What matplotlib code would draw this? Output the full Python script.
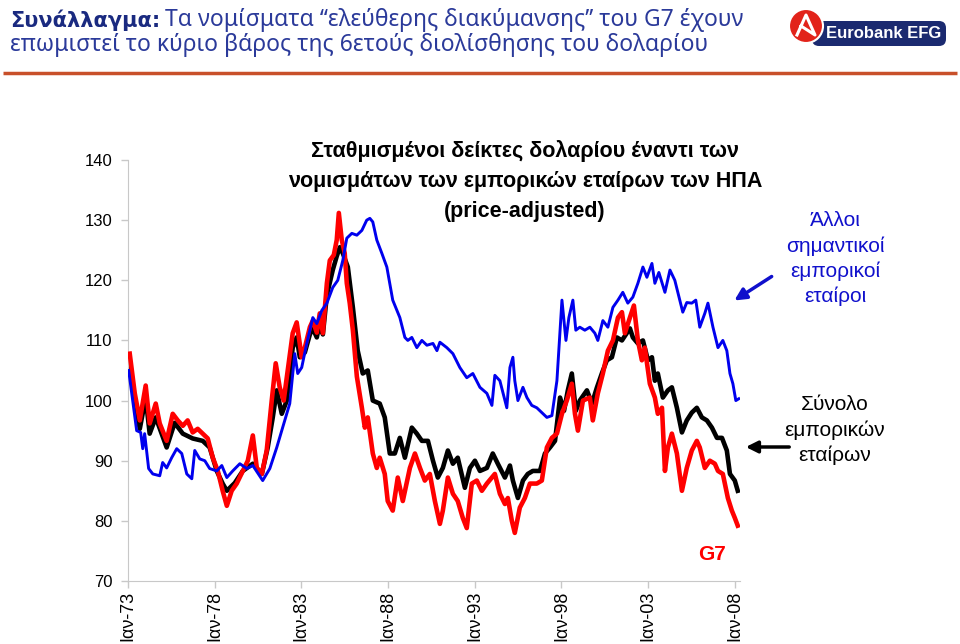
import matplotlib.pyplot as plt
import matplotlib.patches as mpatches
import numpy as np

# Trade-weighted dollar indices (price-adjusted)
blue_years = [1973.04, 1973.27, 1973.50, 1973.73, 1973.85, 1973.96, 1974.19, 1974.43, 1974.83, 1975.00,
              1975.23, 1975.52, 1975.81, 1976.10, 1976.39, 1976.68, 1976.85, 1977.14, 1977.43, 1977.71,
              1978.12, 1978.41, 1978.70, 1979.04, 1979.45, 1979.85, 1980.20, 1980.77, 1981.18, 1981.58,
              1982.16, 1982.33, 1982.62, 1982.79, 1983.02, 1983.31, 1983.66, 1983.89, 1984.18, 1984.47,
              1984.81, 1985.10, 1985.39, 1985.62, 1985.91, 1986.20, 1986.49, 1986.77, 1986.95, 1987.12,
              1987.35, 1987.64, 1987.93, 1988.27, 1988.68, 1988.97, 1989.14, 1989.37, 1989.66, 1989.95,
              1990.24, 1990.59, 1990.82, 1990.99, 1991.39, 1991.74, 1992.14, 1992.54, 1992.89, 1993.30,
              1993.70, 1993.99, 1994.16, 1994.45, 1994.85, 1995.03, 1995.20, 1995.31, 1995.49, 1995.78,
              1996.01, 1996.29, 1996.58, 1996.87, 1997.16, 1997.45, 1997.74, 1998.03, 1998.26, 1998.43,
              1998.66, 1998.83, 1999.06, 1999.35, 1999.64, 1999.93, 2000.10, 2000.39, 2000.68, 2000.97,
              2001.26, 2001.54, 2001.83, 2002.12, 2002.41, 2002.70, 2002.93, 2003.22, 2003.39, 2003.62,
              2003.97, 2004.26, 2004.54, 2004.83, 2005.00, 2005.23, 2005.52, 2005.75, 2005.98, 2006.27,
              2006.45, 2006.74, 2007.03, 2007.31, 2007.54, 2007.72, 2007.89, 2008.06, 2008.23]
blue_vals = [105, 100, 95, 94.7, 92, 94.5, 88.7, 87.8, 87.5, 89.7,
             88.8, 90.5, 92, 91.2, 87.8, 87, 91.7, 90.3, 90, 88.7,
             88.3, 89.2, 87.2, 88.3, 89.5, 88.7, 89.2, 86.7, 88.7, 92.2,
             97.8, 99.5, 107.8, 104.5, 105.5, 109.5, 113.8, 112.8, 115, 116.2,
             118.8, 120, 123.3, 127, 127.8, 127.5, 128.3, 130, 130.3, 129.7,
             126.7, 124.5, 122.2, 116.7, 113.8, 110.5, 110, 110.5, 108.8, 110,
             109.2, 109.5, 108.3, 109.7, 108.8, 107.8, 105.5, 103.8, 104.5, 102.2,
             101.2, 99.2, 104.2, 103.3, 98.8, 105.5, 107.2, 103.3, 100, 102.2,
             100.5, 99.2, 98.8, 98, 97.2, 97.5, 103.3, 116.7, 110, 113.8,
             116.7, 111.7, 112.2, 111.7, 112.2, 111.2, 110, 113.3, 112.2, 115.5,
             116.7, 118, 116.2, 117.2, 119.5, 122.2, 120.5, 122.8, 119.5, 121.3,
             118, 121.7, 120, 116.7, 114.7, 116.3, 116.2, 116.7, 112.2, 114.5,
             116.2, 112.2, 108.8, 110, 108.3, 104.5, 102.8, 100, 100.3]

black_years = [1973.10, 1973.39, 1973.68, 1974.02, 1974.25, 1974.60, 1975.23, 1975.69, 1976.16, 1976.73,
               1977.31, 1977.71, 1978.12, 1978.46, 1978.70, 1979.16, 1979.62, 1980.20, 1980.72, 1981.06,
               1981.35, 1981.58, 1981.87, 1982.16, 1982.50, 1982.73, 1982.91, 1983.20, 1983.49, 1983.66,
               1983.89, 1984.06, 1984.24, 1984.47, 1984.81, 1985.04, 1985.22, 1985.39, 1985.68, 1985.97,
               1986.25, 1986.54, 1986.83, 1987.12, 1987.52, 1987.81, 1988.10, 1988.39, 1988.68, 1988.97,
               1989.37, 1989.66, 1989.95, 1990.30, 1990.59, 1990.87, 1991.16, 1991.45, 1991.74, 1992.02,
               1992.43, 1992.72, 1993.01, 1993.30, 1993.70, 1994.04, 1994.33, 1994.74, 1995.03, 1995.20,
               1995.49, 1995.78, 1996.06, 1996.35, 1996.76, 1997.05, 1997.34, 1997.63, 1997.92, 1998.15,
               1998.37, 1998.60, 1998.83, 1999.06, 1999.47, 1999.76, 2000.05, 2000.33, 2000.62, 2000.91,
               2001.20, 2001.49, 2001.95, 2002.12, 2002.41, 2002.70, 2002.99, 2003.22, 2003.39, 2003.56,
               2003.85, 2004.14, 2004.37, 2004.66, 2004.95, 2005.23, 2005.52, 2005.81, 2006.10, 2006.39,
               2006.68, 2006.97, 2007.26, 2007.54, 2007.72, 2008.00, 2008.17]
black_vals = [106, 100, 95.3, 100.5, 94.5, 97.2, 92.2, 96.3, 94.5, 93.7,
              93.3, 92.2, 88.3, 86.2, 85, 86.3, 88.3, 89.5, 87.8, 92.2,
              97.2, 101.7, 97.8, 100, 108.8, 110.5, 107.2, 108, 111, 112,
              110.5, 113, 111, 117.5, 121.7, 124, 125.5, 124.5, 122.2, 115.5,
              108.3, 104.5, 105, 100, 99.5, 97.2, 91.2, 91.2, 93.8, 90.5,
              95.5, 94.5, 93.3, 93.3, 90, 87.2, 88.8, 91.7, 89.5, 90.5,
              85.5, 88.8, 90, 88.3, 88.8, 91.2, 89.5, 87.2, 89.2, 86.7,
              83.8, 86.7, 87.8, 88.3, 88.3, 91.2, 92.2, 93.3, 100.5, 98.3,
              101.7, 104.5, 98.3, 100, 101.7, 99.5, 102.2, 104.5, 106.7, 107.2,
              110.5, 110, 112, 110.5, 109.5, 110, 106.7, 107.2, 103.3, 104.5,
              100.5, 101.7, 102.2, 98.8, 94.7, 96.7, 98, 98.8, 97.2, 96.7,
              95.5, 93.8, 93.8, 91.7, 87.8, 86.7, 85]

red_years = [1973.10, 1973.39, 1973.68, 1974.02, 1974.25, 1974.60, 1974.83, 1975.23, 1975.58, 1975.87,
             1976.16, 1976.44, 1976.73, 1977.02, 1977.31, 1977.60, 1977.89, 1978.18, 1978.46, 1978.70,
             1978.98, 1979.27, 1979.62, 1979.91, 1980.20, 1980.43, 1980.72, 1981.00, 1981.29, 1981.52,
             1981.75, 1981.98, 1982.21, 1982.50, 1982.73, 1983.02, 1983.20, 1983.49, 1983.66, 1983.89,
             1984.06, 1984.24, 1984.47, 1984.64, 1984.87, 1985.04, 1985.16, 1985.33, 1985.50, 1985.62,
             1985.79, 1985.97, 1986.20, 1986.49, 1986.66, 1986.83, 1987.12, 1987.35, 1987.52, 1987.81,
             1987.98, 1988.27, 1988.56, 1988.85, 1989.26, 1989.55, 1989.84, 1990.12, 1990.41, 1990.70,
             1990.99, 1991.16, 1991.45, 1991.74, 1992.02, 1992.31, 1992.54, 1992.83, 1993.12, 1993.41,
             1993.70, 1994.16, 1994.45, 1994.74, 1994.91, 1995.14, 1995.31, 1995.60, 1995.89, 1996.18,
             1996.58, 1996.87, 1997.16, 1997.45, 1997.74, 1998.03, 1998.31, 1998.60, 1998.78, 1998.95,
             1999.24, 1999.64, 1999.81, 2000.10, 2000.39, 2000.68, 2000.97, 2001.26, 2001.49, 2001.66,
             2001.95, 2002.18, 2002.41, 2002.64, 2002.81, 2003.10, 2003.39, 2003.56, 2003.80, 2003.97,
             2004.14, 2004.37, 2004.66, 2004.95, 2005.23, 2005.52, 2005.81, 2005.98, 2006.27, 2006.56,
             2006.85, 2007.03, 2007.31, 2007.60, 2007.83, 2008.00, 2008.17]
red_vals = [107.8, 101.2, 96.7, 102.5, 96.2, 99.5, 96.2, 93.3, 97.8, 96.7,
            95.8, 96.7, 94.7, 95.3, 94.5, 93.7, 90.5, 88.3, 85, 82.5,
            85, 86.2, 88.3, 90, 94.2, 88.8, 87.8, 91.7, 100, 106.2,
            102.2, 100, 105, 111.2, 113, 107.2, 108.8, 112.2, 113.3, 111.3,
            114.5, 111.2, 119.5, 123.3, 124.2, 126.7, 131.2, 126.7, 124.5, 119.5,
            116.2, 111.7, 104, 98.8, 95.5, 97.2, 91.2, 88.8, 90.5, 87.8,
            83.3, 81.7, 87.2, 83.3, 88.8, 91.2, 88.8, 86.7, 87.8, 83.3,
            79.5, 81.7, 87.2, 84.5, 83.3, 80.5, 78.8, 86.2, 86.7, 85,
            86.2, 87.8, 84.5, 82.8, 83.8, 80, 78, 82.2, 83.8, 86.2,
            86.2, 86.7, 92.2, 93.8, 94.5, 97.8, 100, 102.8, 97.8, 95,
            100, 100.5, 96.7, 101.2, 104.5, 108.3, 110, 113.8, 114.7, 111.2,
            113.8, 115.8, 110, 106.7, 108.8, 102.8, 100.5, 97.8, 98.8, 88.3,
            92.2, 94.5, 91.2, 85, 88.8, 91.7, 93.3, 92.2, 88.8, 90,
            89.5, 88.3, 87.8, 83.8, 81.7, 80.5, 79.2]

tick_years = [1973, 1978, 1983, 1988, 1993, 1998, 2003, 2008]
tick_labels = ["Ιαν-73", "Ιαν-78", "Ιαν-83", "Ιαν-88", "Ιαν-93", "Ιαν-98", "Ιαν-03", "Ιαν-08"]
y_ticks = [70, 80, 90, 100, 110, 120, 130, 140]

W, H = 960, 644
fig = plt.figure(figsize=(W / 100, H / 100), dpi=100)

ax = fig.add_axes([128 / W, 1 - 581 / H, (740 - 128) / W, (581 - 160) / H])
ax.plot(black_years, black_vals, color="black", lw=3.3, solid_joinstyle="round", zorder=2)
ax.plot(red_years, red_vals, color="#FF0000", lw=3.3, solid_joinstyle="round", zorder=3)
ax.plot(blue_years, blue_vals, color="#0000EE", lw=2.1, solid_joinstyle="round", zorder=4)

ax.set_xlim(1973, 2008.3)
ax.set_ylim(70, 140)
ax.set_yticks(y_ticks)
ax.set_xticks(tick_years)
ax.set_xticklabels(tick_labels, rotation=90, va="top", ha="center")
for s in ["top", "right"]:
    ax.spines[s].set_visible(False)
ax.spines["left"].set_color("#C8C8C8")
ax.spines["bottom"].set_color("#C8C8C8")
ax.tick_params(axis="both", colors="#C8C8C8", labelcolor="black", labelsize=12, length=5, width=1)
ax.tick_params(axis="y", pad=6)
ax.tick_params(axis="x", pad=2, labelsize=13)
for lab in ax.get_xticklabels() + ax.get_yticklabels():
    lab.set_family("Liberation Sans")

# overlay in pixel coordinates for titles, notes and logo
ov = fig.add_axes([0, 0, 1, 1], zorder=5)
ov.set_xlim(0, W)
ov.set_ylim(H, 0)
ov.axis("off")
ov.patch.set_visible(False)

ov.text(10, 20, "Συνάλλαγμα:", fontsize=15, fontweight="bold", color="#1A2A80",
        family="DejaVu Sans", va="center", ha="left")
ov.text(165, 20, "Τα νομίσματα ‘‘ελεύθερης διακύμανσης’’ του G7 έχουν", fontsize=16.5,
        color="#2B3A9A", family="Noto Sans", va="center", ha="left")
ov.text(10, 45, "επωμιστεί το κύριο βάρος της 6ετούς διολίσθησης του δολαρίου", fontsize=16.5,
        color="#2B3A9A", family="Noto Sans", va="center", ha="left")
ov.plot([3, 957], [73, 73], color="#C8502A", lw=2.5, solid_capstyle="butt")

# logo
ov.add_patch(mpatches.FancyBboxPatch((812, 21), 134, 25, boxstyle="round,pad=0,rounding_size=7",
                                     fc="#1B2A70", ec="none"))
ov.add_patch(mpatches.Circle((806, 26), 17, fc="#E2231A", ec="white", lw=1.5))
ov.plot([797, 806, 815, 801], [35, 15, 35, 26], color="white", lw=2.2)
ov.text(884, 33, "Eurobank EFG", fontsize=12, fontweight="bold", color="white",
        family="Liberation Sans", va="center", ha="center")

# chart heading
for txt, y in [("Σταθμισμένοι δείκτες δολαρίου έναντι των", 151),
               ("νομισμάτων των εμπορικών εταίρων των ΗΠΑ", 181),
               ("(price-adjusted)", 211)]:
    ov.text(525, y, txt, fontsize=15.5, fontweight="bold", color="black",
            family="Liberation Sans", va="center", ha="center")

for txt, y in [("Άλλοι", 220), ("σημαντικοί", 246), ("εμπορικοί", 271), ("εταίροι", 296)]:
    ov.text(835, y, txt, fontsize=15, color="#1010CC", family="Liberation Sans",
            va="center", ha="center")
for txt, y in [("Σύνολο", 404), ("εμπορικών", 430), ("εταίρων", 455)]:
    ov.text(835, y, txt, fontsize=15, color="black", family="Liberation Sans",
            va="center", ha="center")

ov.annotate("", xy=(732, 302), xytext=(774, 275),
            arrowprops=dict(arrowstyle="-|>,head_length=0.7,head_width=0.35", color="#1010CC", lw=2.5))
ov.annotate("", xy=(743, 447), xytext=(792, 447),
            arrowprops=dict(arrowstyle="-|>,head_length=0.7,head_width=0.35", color="black", lw=2.5))

ov.text(712, 554, "G7", fontsize=15, fontweight="bold", color="#FF0000",
        family="Liberation Sans", va="center", ha="center")

fig.savefig("out.png", dpi=100)
